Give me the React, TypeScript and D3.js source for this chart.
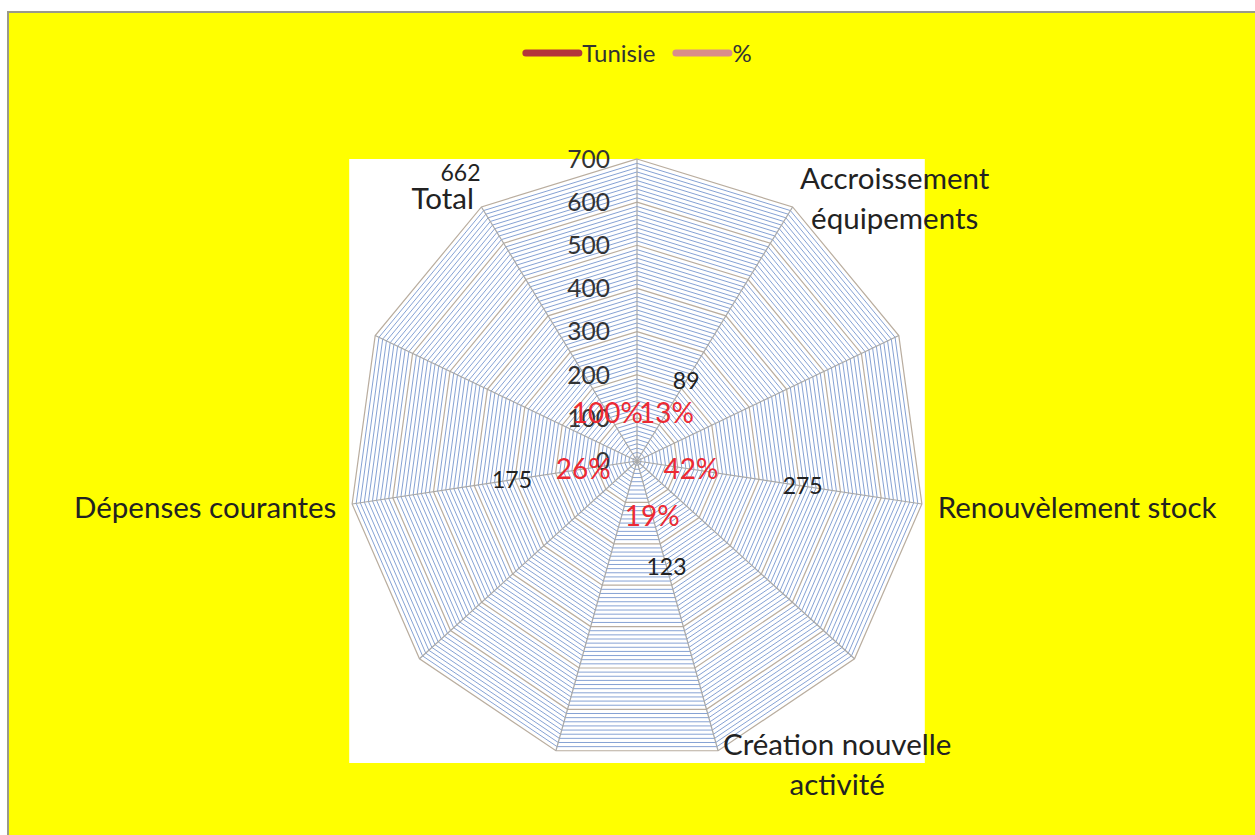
import React, { useEffect, useRef } from "react";
import * as d3 from "d3";

const categories = [
  "",
  "Accroissement\néquipements",
  "",
  "Renouvèlement stock",
  "",
  "Création nouvelle\nactivité",
  "",
  "",
  "Dépenses courantes",
  "",
  "Total",
];
const tunisie: (number | null)[] = [null, 89, null, 275, null, 123, null, null, 175, null, 662];
const percent: (number | null)[] = [null, 0.13, null, 0.42, null, 0.19, null, null, 0.26, null, 1.0];
const radialTicks = [0, 100, 200, 300, 400, 500, 600, 700];
const seriesNames = ["Tunisie", "%"];
const seriesColors = ["#b3373b", "#d98e8a"];

const FONT = "Lato, 'Open Sans', sans-serif";

export default function App() {
  const ref = useRef<SVGSVGElement | null>(null);

  useEffect(() => {
    const W = 1255, H = 835;
    const cx = 637, cy = 461, R = 302, kx = 0.953;
    const svg = d3.select(ref.current!);
    svg.selectAll("*").remove();

    svg.append("rect").attr("x", 8).attr("y", 12).attr("width", W).attr("height", H)
      .attr("fill", "#ffff00").attr("stroke", "#9a9a8a").attr("stroke-width", 2);

    const n = categories.length;
    const maxV = radialTicks[radialTicks.length - 1];
    const angle = d3.scaleLinear().domain([0, n]).range([0, 2 * Math.PI]);
    const r = d3.scaleLinear().domain([0, maxV]).range([0, R]);
    const pt = (i: number, v: number): [number, number] => [
      cx + r(v) * Math.sin(angle(i)) * kx,
      cy - r(v) * Math.cos(angle(i)),
    ];

    // plot area
    svg.append("rect").attr("x", cx - R * kx).attr("y", cy - R)
      .attr("width", 2 * R * kx).attr("height", 2 * R).attr("fill", "#ffffff");

    const line = d3.line();
    const ring = (v: number) => line(d3.range(n).map((i) => pt(i, v))) + "Z";

    const minor = d3.range(10, maxV + 1, 10).filter((v) => v % 100 !== 0);
    svg.append("g").selectAll("path").data(minor).join("path")
      .attr("d", (v) => ring(v)).attr("fill", "none")
      .attr("stroke", "#86a2d4").attr("stroke-width", 1);
    svg.append("g").selectAll("path").data(radialTicks.filter((v) => v > 0)).join("path")
      .attr("d", (v) => ring(v)).attr("fill", "none")
      .attr("stroke", "#b9ad9f").attr("stroke-width", 1.2);

    // spokes
    svg.append("g").selectAll("line").data(d3.range(n)).join("line")
      .attr("x1", cx).attr("y1", cy)
      .attr("x2", (i) => pt(i, maxV)[0]).attr("y2", (i) => pt(i, maxV)[1])
      .attr("stroke", "#a8a8a8").attr("stroke-width", 1.2);

    // tick labels
    svg.append("g").selectAll("text").data(radialTicks).join("text")
      .attr("x", cx - 27).attr("y", (v) => cy - r(v)).attr("dy", "0.36em")
      .attr("text-anchor", "end").attr("font-family", FONT).attr("font-size", 24.5)
      .attr("fill", "#333").text((v) => String(v));

    // category labels
    categories.forEach((c, i) => {
      if (!c) return;
      const a = angle(i);
      const s = Math.sin(a), co = Math.cos(a);
      const [vx, vy] = pt(i, maxV);
      const lines = c.split("\n");
      const lh = 40;
      const g = svg.append("g");
      const texts = lines.map((l) =>
        g.append("text").attr("font-family", FONT).attr("font-size", 29.5)
          .attr("fill", "#222").attr("text-anchor", "middle").text(l)
      );
      const widths = texts.map((t) => (t.node() as SVGTextElement).getComputedTextLength());
      const bw = Math.max(...widths);
      const gap = 4 + 12 * s * s;
      let centerX: number;
      if (s > 0.05) centerX = vx + gap + bw / 2;
      else if (s < -0.05) centerX = vx - gap - bw / 2;
      else centerX = vx;
      const centerY = vy - 12 * co + 2;
      const top = centerY - (lines.length * lh) / 2;
      texts.forEach((t, k) => {
        t.attr("x", centerX).attr("y", top + lh * k + lh / 2).attr("dy", "0.36em");
      });
    });

    // data labels
    const off = 57;
    const labelPos = (i: number, v: number): [number, number] => {
      const [px, py] = pt(i, v);
      const a = angle(i);
      return [px + off * Math.sin(a) * kx, py - off * Math.cos(a)];
    };
    const fmtPct = d3.format(".0%");
    svg.append("g").selectAll("text").data(d3.range(n).filter((i) => percent[i] != null)).join("text")
      .attr("x", (i) => labelPos(i, percent[i]!)[0]).attr("y", (i) => labelPos(i, percent[i]!)[1])
      .attr("dy", "0.36em").attr("text-anchor", "middle").attr("font-family", FONT)
      .attr("font-size", 28).attr("fill", "#ec2a33").text((i) => fmtPct(percent[i]!));
    svg.append("g").selectAll("text").data(d3.range(n).filter((i) => tunisie[i] != null)).join("text")
      .attr("x", (i) => labelPos(i, tunisie[i]!)[0]).attr("y", (i) => labelPos(i, tunisie[i]!)[1])
      .attr("dy", "0.36em").attr("text-anchor", "middle").attr("font-family", FONT)
      .attr("font-size", 23).attr("fill", "#222").text((i) => String(tunisie[i]));

    // legend
    const lg = svg.append("g");
    const items = seriesNames.map((name, k) => {
      const t = lg.append("text").attr("font-family", FONT).attr("font-size", 24)
        .attr("fill", "#333").text(name);
      return { name, k, t, w: (t.node() as SVGTextElement).getComputedTextLength() };
    });
    const symW = 60, gapItem = 17;
    const total = d3.sum(items, (d) => symW + d.w) + gapItem * (items.length - 1);
    let x = cx - total / 2;
    const ly = 53;
    items.forEach((d) => {
      lg.append("line").attr("x1", x + 3.5).attr("x2", x + symW - 3.5).attr("y1", ly).attr("y2", ly)
        .attr("stroke", seriesColors[d.k]).attr("stroke-width", 7).attr("stroke-linecap", "round");
      d.t.attr("x", x + symW).attr("y", ly).attr("dy", "0.36em");
      x += symW + d.w + gapItem;
    });
  }, []);

  return (
    <svg
      ref={ref}
      width={1255}
      height={835}
      style={{ position: "absolute", left: 0, top: 0, display: "block" }}
    />
  );
}
